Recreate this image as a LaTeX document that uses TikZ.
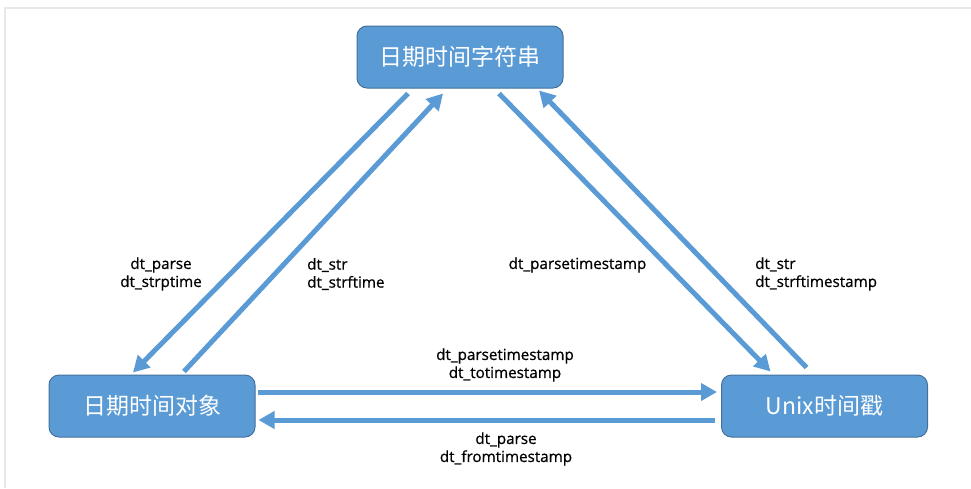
\documentclass[tikz,border=0pt]{standalone}
\usepackage{fontspec}
\setmainfont{Open Sans}
\newfontfamily\lblfont{Open Sans}[BoldFont={Open Sans}, BoldFeatures={FakeBold=0.8}]
\newfontfamily\cjk{Noto Sans CJK SC}
\usetikzlibrary{arrows.meta}
\definecolor{boxfill}{HTML}{5B9BD5}
\definecolor{boxline}{HTML}{41719C}
\definecolor{framegray}{HTML}{E8E8E8}
\begin{document}
\begin{tikzpicture}[x=1pt,y=-1pt,
  box/.style={draw=boxline, line width=1pt, fill=boxfill, rounded corners=10pt,
    minimum width=206pt, minimum height=62pt, inner sep=0pt, text=white,
    font=\cjk\fontsize{23}{27}\selectfont},
  conn/.style={draw=boxfill, line width=5pt, -{Triangle[length=16pt,width=17pt]}},
  lbl/.style={font=\lblfont\bfseries\fontsize{15.2}{18}\selectfont, inner sep=0pt, text=black}]
\useasboundingbox (0,0) rectangle (971,488);
\draw[framegray, line width=1.5pt] (5,488) -- (5,8) -- (971,8);

\node[box] (str) at (460,57) {日期时间字符串};
\node[box] (obj) at (152,406) {日期时间对象};
\node[box] (unix) at (824.5,406) {Unix时间戳};

\draw[conn] ([xshift=-52pt,yshift=-5pt]str.south) -- ([xshift=-19pt,yshift=2pt]obj.north);
\draw[conn] ([xshift=32pt,yshift=3pt]obj.north) -- ([xshift=-17pt,yshift=-5pt]str.south);
\draw[conn] ([xshift=39pt,yshift=-5pt]str.south) -- ([xshift=-54pt,yshift=3pt]unix.north);
\draw[conn] ([xshift=-18pt,yshift=7pt]unix.north) -- ([xshift=79pt,yshift=-2pt]str.south);
\draw[conn] ([xshift=2pt,yshift=14pt]obj.east) -- ([xshift=-4pt,yshift=14pt]unix.west);
\draw[conn] ([xshift=-6pt,yshift=-14pt]unix.west) -- ([xshift=3pt,yshift=-14pt]obj.east);

\node[lbl, align=center] (l1) at (161,274) {dt\_parse\\dt\_strptime};
\node[lbl, align=left, anchor=west] (l2) at (307,274) {dt\_str\\dt\_strftime};
\node[lbl] (l3) at (577.5,265) {dt\_parsetimestamp};
\node[lbl, align=left, anchor=west] (l4) at (755,274) {dt\_str\\dt\_strftimestamp};
\node[lbl, align=center] (l5) at (505,365) {dt\_parsetimestamp\\dt\_totimestamp};
\node[lbl, align=center] (l6) at (506,449) {dt\_parse\\dt\_fromtimestamp};
\end{tikzpicture}
\end{document}
